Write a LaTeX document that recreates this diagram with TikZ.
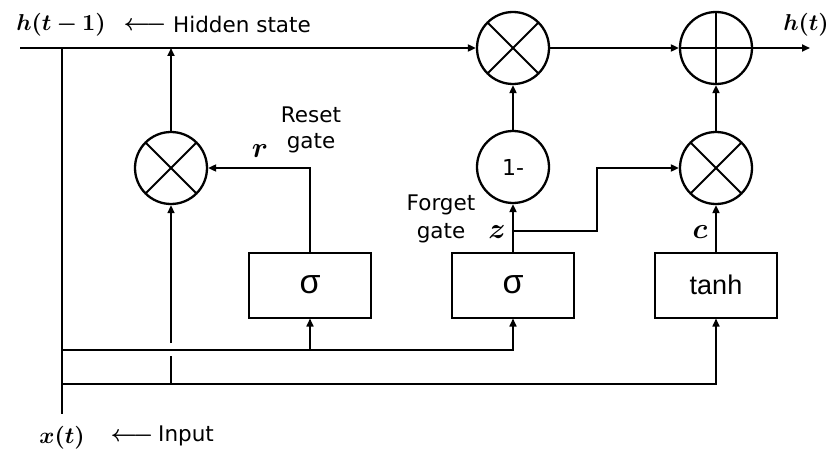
\documentclass[tikz,border=0pt]{standalone}
\usepackage{amsmath}
\usepackage{bm}
\usepackage{fontspec}
\setmainfont{DejaVu Sans}
\newfontfamily\arialf{Liberation Sans}
\usetikzlibrary{arrows.meta}
\tikzset{
  x=1pt, y=-1pt,
  wire/.style={line width=1.9pt},
  thinwire/.style={line width=1.6pt},
  arr/.style={-{Triangle[length=8pt,width=7pt]}},
  opcirc/.style={circle, draw, line width=2.3pt, minimum size=72pt, inner sep=0pt},
  mult/.style={opcirc, path picture={
      \draw[line width=2pt] (path picture bounding box.north west) -- (path picture bounding box.south east);
      \draw[line width=2pt] (path picture bounding box.north east) -- (path picture bounding box.south west);}},
  plusop/.style={opcirc, path picture={
      \draw[line width=2pt] (path picture bounding box.north) -- (path picture bounding box.south);
      \draw[line width=2pt] (path picture bounding box.west) -- (path picture bounding box.east);}},
  gatebox/.style={draw, line width=2pt, minimum width=122pt, minimum height=65pt, inner sep=0pt},
  lbl/.style={font=\fontsize{21.5pt}{24pt}\selectfont, inner sep=0pt},
  mlbl/.style={scale=2.3, inner sep=0pt},
  vlbl/.style={scale=2.9, inner sep=0pt},
}
\begin{document}
\begin{tikzpicture}
\useasboundingbox (0,0) rectangle (831,452);
% operator nodes
\node[mult] (m1) at (513,48) {};
\node[plusop] (pl) at (716,48) {};
\node[opcirc, font=\fontsize{22pt}{26pt}\selectfont] (one) at (513,167) {1-};
\node[mult] (mr) at (171,168) {};
\node[mult] (mc) at (716,168) {};
% boxes
\node[gatebox, font=\arialf\fontsize{34pt}{36pt}\selectfont] (sr) at (310,285) {σ};
\node[gatebox, font=\arialf\fontsize{34pt}{36pt}\selectfont] (sz) at (513,285) {σ};
\node[gatebox, font=\arialf\fontsize{27pt}{30pt}\selectfont] (th) at (716,285) {tanh};
% coordinates
\coordinate (hs) at (20,48);
\coordinate (he) at (810,48);
\coordinate (xt) at (62,48);
\coordinate (xb) at (62,414);
\coordinate (b1) at (62,350);
\coordinate (b2) at (62,384);
\coordinate (hopb) at (171,384);
\coordinate (hopl) at (171,356);
\coordinate (hoph) at (171,343);
\coordinate (zb) at (513,231);
\coordinate (zr) at (597,231);
% hidden state line
\draw[wire, arr] (hs) -- (m1.west);
\draw[wire, arr] (m1.east) -- (pl.west);
\draw[wire, arr] (pl.east) -- (he);
\draw[line width=2.6pt] (xt) -- (xb);
% reset path
\draw[wire, arr] (mr.north) -- (mr.north |- hs);
\draw[wire, arr] (sr.north) |- (mr.east);
\draw[thinwire] (hopb) -- (hopl);
\draw[thinwire, arr] (hoph) -- (mr.south);
% input buses
\draw[thinwire, arr] (b1) -| (sz.south);
\draw[thinwire, arr] (sr.south |- b1) -- (sr.south);
\draw[thinwire, arr] (b2) -| (th.south);
% forget path
\draw[wire, arr] (sz.north) -- (one.south);
\draw[wire, arr] (one.north) -- (m1.south);
\draw[wire, arr] (zb) -- (zr) |- (mc.west);
% candidate path
\draw[wire, arr] (th.north) -- (mc.south);
\draw[wire, arr] (mc.north) -- (pl.south);
% labels
\node[mlbl] (lh1) at (61,25) {$\bm{h(t-1)}$};
\node[mlbl] (la1) at (145,26) {$\bm{\longleftarrow}$};
\node[lbl, anchor=west] (lhs) at (173,24) {Hidden state};
\node[mlbl] (lht) at (806,25) {$\bm{h(t)}$};
\node[lbl] (lre) at (311,115) {Reset};
\node[lbl] (lrg) at (311,143) {gate};
\node[vlbl] (lr) at (260,151) {$\bm{r}$};
\node[lbl] (lfo) at (441,205) {Forget};
\node[lbl] (lfg) at (441,233) {gate};
\node[vlbl] (lz) at (497,232) {$\bm{z}$};
\node[vlbl] (lc) at (700,232) {$\bm{c}$};
\node[mlbl] (lx) at (62,438) {$\bm{x(t)}$};
\node[mlbl] (la2) at (132,437) {$\bm{\longleftarrow}$};
\node[lbl, anchor=west] (lin) at (158,436) {Input};
\end{tikzpicture}
\end{document}
